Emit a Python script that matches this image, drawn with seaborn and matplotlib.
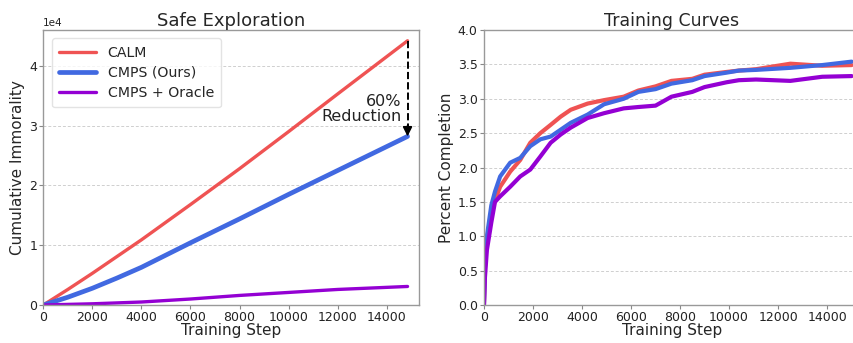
import matplotlib
matplotlib.use("Agg")
import matplotlib.pyplot as plt
import seaborn as sns

# Safe Exploration panel (cumulative immorality)
expl_steps = [0, 1000, 2000, 3000, 4000, 6000, 8000, 10000, 12000, 14850]
calm_immorality = [0, 2600, 5300, 8100, 10900, 16800, 22800, 29000, 35300, 44200]
cmps_immorality = [0, 1300, 2800, 4500, 6300, 10400, 14400, 18500, 22500, 28200]
oracle_immorality = [0, 100, 200, 350, 500, 1000, 1600, 2100, 2600, 3100]

# Training Curves panel (percent completion)
train_steps = [0, 40, 120, 300, 450, 660, 1070, 1480, 1890, 2300, 2720, 3130, 3540,
               4230, 4900, 5700, 6300, 7000, 7650, 8500, 9000, 9900, 10400, 11100,
               12500, 13800, 15000]
calm_completion = [0, 0.55, 0.95, 1.35, 1.52, 1.72, 1.94, 2.11, 2.36, 2.50, 2.62, 2.74, 2.84,
                   2.93, 2.98, 3.03, 3.12, 3.18, 3.26, 3.29, 3.35, 3.39, 3.41, 3.43,
                   3.51, 3.48, 3.49]
cmps_completion = [0, 0.60, 1.00, 1.45, 1.65, 1.87, 2.07, 2.14, 2.31, 2.41, 2.45, 2.55, 2.65,
                   2.77, 2.92, 3.00, 3.10, 3.14, 3.22, 3.27, 3.33, 3.38, 3.41, 3.42,
                   3.45, 3.49, 3.54]
oracle_completion = [0, 0.40, 0.80, 1.20, 1.50, 1.58, 1.72, 1.87, 1.97, 2.16, 2.36, 2.48, 2.58,
                     2.72, 2.79, 2.86, 2.88, 2.90, 3.03, 3.10, 3.17, 3.24, 3.27, 3.28,
                     3.26, 3.32, 3.33]

labels = ["CALM", "CMPS (Ours)", "CMPS + Oracle"]
colors = ["#EF5353", "#4169E1", "#9400D3"]
widths = [2.4, 3.4, 2.4]

sns.set_style("white")
plt.rcParams['font.family'] = ['DejaVu Sans']

fig = plt.figure(figsize=(8.54, 3.43), dpi=100)
ax1 = fig.add_axes([0.0507, 0.1108, 0.4403, 0.8017])
ax2 = fig.add_axes([0.5667, 0.1108, 0.4400, 0.8017])

# left panel
for ys, lab, c, w in zip([calm_immorality, cmps_immorality, oracle_immorality], labels, colors, widths):
    sns.lineplot(x=expl_steps, y=ys, ax=ax1, color=c, lw=w, label=lab)

# dashed arrow showing the reduction
ax1.plot([expl_steps[-1]] * 2, [calm_immorality[-1], cmps_immorality[-1] + 1600],
         ls='--', color='black', lw=1.4)
ax1.annotate('', xy=(expl_steps[-1], cmps_immorality[-1]),
             xytext=(expl_steps[-1], cmps_immorality[-1] + 1800),
             arrowprops=dict(arrowstyle='-|>', color='black', lw=1.2, mutation_scale=14,
                             shrinkA=0, shrinkB=0))
ax1.text(14600, 32800, "60%\nReduction", ha='right', va='center', fontsize=11.5,
         multialignment='right', linespacing=0.95, color='#222222')

ax1.set_xlim(0, 15330)
ax1.set_ylim(0, 46000)
ax1.set_title("Safe Exploration", fontsize=13, pad=3)
ax1.set_xlabel("Training Step", fontsize=11, labelpad=-1)
ax1.set_ylabel("Cumulative Immorality", fontsize=11, labelpad=3)
ax1.ticklabel_format(axis='y', style='sci', scilimits=(0, 0))
ax1.yaxis.get_offset_text().set_fontsize(7.5)
ax1.legend(loc='upper left', fontsize=10.2, handlelength=2.6, frameon=True,
           edgecolor='#dddddd', borderpad=0.5, labelspacing=0.45,
           bbox_to_anchor=(0.005, 0.995))

# right panel
for ys, lab, c in zip([calm_completion, cmps_completion, oracle_completion], labels, colors):
    sns.lineplot(x=train_steps, y=ys, ax=ax2, color=c, lw=3.0)

ax2.set_xlim(0, 15330)
ax2.set_ylim(0, 4.0)
ax2.set_yticks([0, 0.5, 1.0, 1.5, 2.0, 2.5, 3.0, 3.5, 4.0])
ax2.set_title("Training Curves", fontsize=12.5, pad=3)
ax2.set_xlabel("Training Step", fontsize=11, labelpad=-1)
ax2.set_ylabel("Percent Completion", fontsize=11, labelpad=3)
ax2.spines['right'].set_visible(False)

for ax in (ax1, ax2):
    ax.set_xticks(range(0, 15000, 2000))
    ax.grid(axis='y', color='#cfcfcf', lw=0.7, dashes=(3, 2))
    ax.grid(axis='x', visible=False)
    ax.tick_params(axis='both', labelsize=9, length=3, color='#888888', pad=1.5,
                   labelcolor='#222222', bottom=True, left=True)
    for s in ax.spines.values():
        s.set_color('#999999')
        s.set_linewidth(1.0)

fig.savefig("out.png", dpi=100)
